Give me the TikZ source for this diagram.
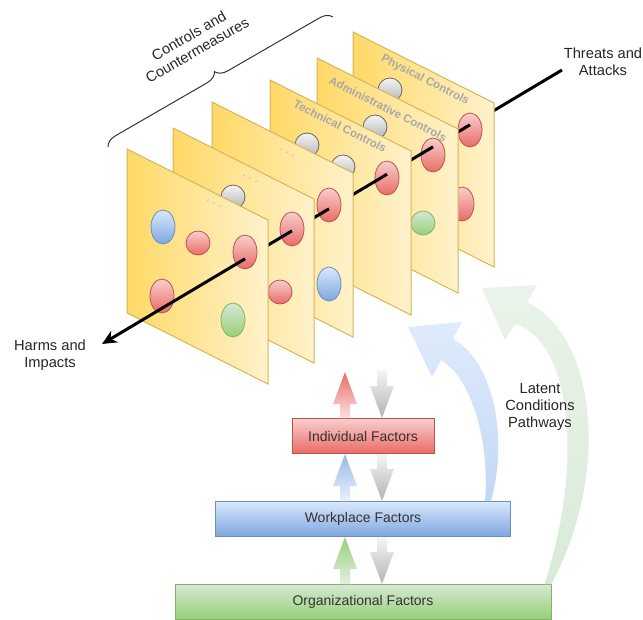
\documentclass[tikz,border=0pt]{standalone}
\usepackage{fontspec}
\setmainfont{Liberation Sans}
\usepackage{xcolor}
\usepackage{tikz}
\usetikzlibrary{positioning,calc,decorations.pathreplacing,arrows.meta}

\definecolor{panelleft}{HTML}{FFD966}
\definecolor{panelright}{HTML}{FFF2CC}
\definecolor{panelline}{HTML}{D6B656}
\definecolor{redtop}{HTML}{F8CECC}
\definecolor{redbot}{HTML}{EA6B66}
\definecolor{redline}{HTML}{B85450}
\definecolor{bluetop}{HTML}{DAE8FC}
\definecolor{bluebot}{HTML}{7EA6E0}
\definecolor{blueline}{HTML}{6C8EBF}
\definecolor{grntop}{HTML}{D5E8D4}
\definecolor{grnbot}{HTML}{97D077}
\definecolor{grnline}{HTML}{82B366}
\definecolor{greytop}{HTML}{F5F5F5}
\definecolor{greybot}{HTML}{B3B3B3}
\definecolor{greyline}{HTML}{666666}

\begin{document}
\begin{tikzpicture}[
  x=0.75pt, y=-0.75pt,
  node distance=35.25pt,
  panel/.style={draw=panelline, line width=0.75pt, left color=panelleft, right color=panelright},
  redo/.style={draw=redline, line width=0.6pt, top color=redtop, bottom color=redbot},
  blueo/.style={draw=blueline, line width=0.6pt, top color=bluetop, bottom color=bluebot},
  grno/.style={draw=grnline, line width=0.6pt, top color=grntop, bottom color=grnbot},
  greyo/.style={draw=greyline, line width=0.6pt, top color=greytop, bottom color=greybot},
  plabel/.style={text=black!34, font=\bfseries\fontsize{8.6}{10}\selectfont, rotate=-27},
  dots/.style={text=black!35, font=\fontsize{8}{9}\selectfont, rotate=-27},
  lbl/.style={align=center, text=black!85, font=\fontsize{11}{12.6}\selectfont},
  factor/.style={draw, line width=0.75pt, minimum height=26.25pt, font=\fontsize{10.5}{12}\selectfont, text=black!80},
  thr/.style={line width=2.25pt, black},
  fat/.style={to path={let \p1=(\tikztostart), \p2=(\tikztotarget), \n1={ifthenelse(\y2>\y1,1,-1)} in
    (\x1-3.75pt,\y1) -- (\x1-3.75pt,{\y2-(\n1)*24pt}) -- (\x1-9pt,{\y2-(\n1)*24pt}) -- (\x1,\y2)
    -- (\x1+9pt,{\y2-(\n1)*24pt}) -- (\x1+3.75pt,{\y2-(\n1)*24pt}) -- (\x1+3.75pt,\y1) -- cycle}},
  brace/.style={decorate, decoration={brace, amplitude=9pt}, draw=black!80, line width=0.75pt},
]
  \useasboundingbox (0,0) rectangle (643,619);

  % labels round the panels
  \node[lbl] (threats) at (603,62) {Threats and\\Attacks};
  \node[lbl] (harms) at (50,355) {Harms and\\Impacts};
  \node[lbl, rotate=30] (ctrl) at (193,43) {Controls and\\Countermeasures};
  \coordinate (bl) at (108,147);
  \coordinate (br) at (333,17);
  \draw[brace] (bl) -- (br);

  \coordinate (tstart) at (562,70);
  \coordinate (htip) at (102,344);
  \coordinate (l6) at ($(tstart)!0.2!(htip)$);
  \coordinate (l5) at ($(tstart)!0.2804!(htip)$);
  \coordinate (l4) at ($(tstart)!0.3804!(htip)$);
  \coordinate (l3) at ($(tstart)!0.5065!(htip)$);
  \coordinate (l2) at ($(tstart)!0.587!(htip)$);
  \coordinate (l1) at ($(tstart)!0.689!(htip)$);

  % physical
  \draw[thr] (tstart) -- (l6);
  \shade[panel] (353,32) -- ++(141,71) -- ++(0,164) -- ++(-141,-71) -- cycle;
  \node[plabel] (phys) at (425,80) {Physical Controls};
  \shade[greyo] (390,90) circle [radius=12];
  \shade[redo] (470,130) ellipse [x radius=12, y radius=17];
  \shade[redo] (462,204) ellipse [x radius=12, y radius=17];

  % administrative
  \draw[thr] (l6) -- (l5);
  \shade[panel] (317,58) -- ++(141,71) -- ++(0,164) -- ++(-141,-71) -- cycle;
  \node[plabel] (admin) at (388,109) {Administrative Controls};
  \shade[greyo] (375,127) circle [radius=12];
  \shade[redo] (433,155) ellipse [x radius=12, y radius=17];
  \shade[grno] (423,223) circle [radius=12];

  % technical
  \draw[thr] (l5) -- (l4);
  \shade[panel] (270,80) -- ++(141,71) -- ++(0,164) -- ++(-141,-71) -- cycle;
  \node[plabel] (tech) at (340,126) {Technical Controls};
  \shade[greyo] (307,145) circle [radius=12];
  \shade[greyo] (343,167) circle [radius=12];
  \shade[redo] (387,178) ellipse [x radius=12, y radius=17];

  \draw[thr] (l4) -- (l3);
  \shade[panel] (212,102) -- ++(141,71) -- ++(0,164) -- ++(-141,-71) -- cycle;
  \node[dots] (dots3) at (287,153) {. . .};
  \shade[redo] (329,205) ellipse [x radius=12, y radius=17];
  \shade[blueo] (329,284) ellipse [x radius=12, y radius=17];

  \draw[thr] (l3) -- (l2);
  \shade[panel] (173,128) -- ++(141,71) -- ++(0,164) -- ++(-141,-71) -- cycle;
  \node[dots] (dots2) at (250,179) {. . .};
  \shade[greyo] (233,197) circle [radius=12];
  \shade[redo] (292,229) ellipse [x radius=12, y radius=17];
  \shade[redo] (280,292) circle [radius=12];

  \draw[thr] (l2) -- (l1);
  \shade[panel] (127,149) -- ++(141,71) -- ++(0,164) -- ++(-141,-71) -- cycle;
  \node[dots] (dots1) at (214,204) {. . .};
  \shade[blueo] (163,227) ellipse [x radius=12, y radius=17];
  \shade[redo] (198,243) circle [radius=12];
  \shade[redo] (245,252) ellipse [x radius=12, y radius=17];
  \shade[redo] (162,296) ellipse [x radius=12, y radius=17];
  \shade[grno] (233,320) ellipse [x radius=12, y radius=17];
  \draw[thr, -{Stealth[length=11pt, width=10pt]}] (l1) -- (htip);

  % factors
  \node[factor, minimum width=282pt, draw=grnline, top color=grntop, bottom color=grnbot] (org) at (363,602) {Organizational Factors};
  \node[factor, minimum width=221.25pt, draw=blueline, top color=bluetop, bottom color=bluebot, above=of org] (work) {Workplace Factors};
  \node[factor, minimum width=106.5pt, draw=redline, top color=redtop, bottom color=redbot, above=of work] (ind) {Individual Factors};

  \coordinate (redtip) at ($(ind.north)+(-18,-46)$);
  \coordinate (greytail) at ($(ind.north)+(19,-48)$);
  \shade[fat, top color=redbot, bottom color=redtop!60] ($(ind.north)+(-18,0)$) to (redtip);
  \shade[fat, top color=bluebot!80, bottom color=bluetop!60] ($(work.north)+(-18,0)$) to ($(ind.south)+(-18,0)$);
  \shade[fat, top color=grnbot, bottom color=grntop!70] ($(org.north)+(-18,0)$) to ($(work.south)+(-18,0)$);
  \shade[fat, top color=greytop, bottom color=greybot] (greytail) to ($(ind.north)+(19,0)$);
  \shade[fat, top color=greytop, bottom color=greybot] ($(ind.south)+(19,0)$) to ($(work.north)+(19,0)$);
  \shade[fat, top color=greytop, bottom color=greybot] ($(work.south)+(19,0)$) to ($(org.north)+(19,0)$);

  % latent condition pathways
  \shade[top color=bluetop!85, bottom color=bluetop!75!bluebot] ($(work.north east)+(-26,0)$)
    .. controls (490,440) and (471,378) .. (441,360) -- (432,377) -- (408,327) -- (462,322) -- (453,339)
    .. controls (495,362) and (508,440) .. ($(work.north east)+(-20,0)$) -- cycle;
  \shade[top color=grntop!50, bottom color=grntop!90] ($(org.north east)+(-7,0)$)
    .. controls (585,460) and (570,340) .. (515,324) -- (505,340) -- (482,288) -- (537,285) -- (527,302)
    .. controls (595,335) and (612,470) .. (org.north east) -- cycle;
  \node[lbl] (latent) at (540,407) {Latent\\Conditions\\Pathways};
\end{tikzpicture}
\end{document}
